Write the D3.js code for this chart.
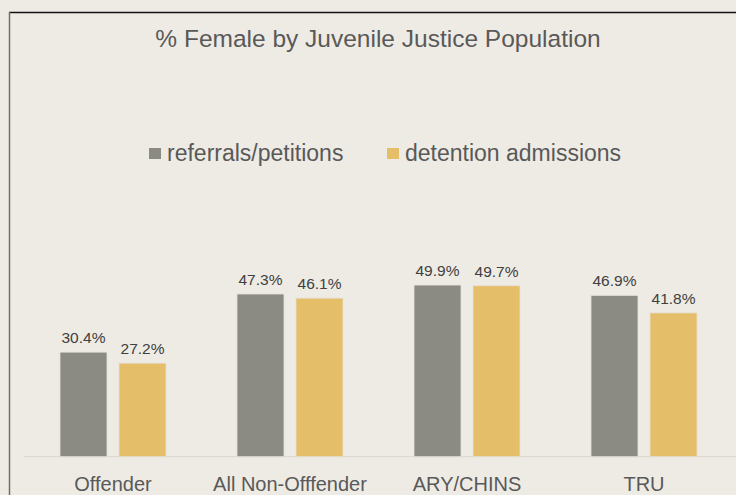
<!DOCTYPE html>
<html>
<head>
<meta charset="utf-8">
<script src="https://cdn.jsdelivr.net/npm/d3@7/dist/d3.min.js"></script>
<style>
  html, body { margin: 0; padding: 0; background: #EEEBE4; }
  svg { display: block; }
  text { font-family: "Liberation Sans", Arial, sans-serif; }
</style>
</head>
<body>
<svg id="chart" width="736" height="495"></svg>
<script>
const title = "% Female by Juvenile Justice Population";
const categories = ["Offender", "All Non-Offfender", "ARY/CHINS", "TRU"];
const seriesNames = ["referrals/petitions", "detention admissions"];
const referrals = [30.4, 47.3, 49.9, 46.9];
const detention = [27.2, 46.1, 49.7, 41.8];
const seriesColors = ["#8B8B84", "#E5BE6A"];

const svg = d3.select("#chart");
const W = 736, H = 495;

svg.append("rect").attr("width", W).attr("height", H).attr("fill", "#EEEBE4");

// chart frame border (top and left visible)
svg.append("line").attr("x1", 9).attr("x2", W).attr("y1", 12.5).attr("y2", 12.5)
  .attr("stroke", "#111").attr("stroke-width", 1.5);
svg.append("line").attr("x1", 9.5).attr("x2", 9.5).attr("y1", 12).attr("y2", H)
  .attr("stroke", "#6f6f6a").attr("stroke-width", 1.5);

svg.append("text").attr("x", 378).attr("y", 47).attr("text-anchor", "middle")
  .attr("font-size", 24.5).attr("fill", "#595959").text(title);

// legend
const legendItems = [
  {name: seriesNames[0], color: seriesColors[0], x: 149},
  {name: seriesNames[1], color: seriesColors[1], x: 387}
];
const lg = svg.append("g");
legendItems.forEach(d => {
  lg.append("rect").attr("x", d.x).attr("y", 148).attr("width", 12).attr("height", 11).attr("fill", d.color);
  lg.append("text").attr("x", d.x + 18).attr("y", 161).attr("font-size", 23)
    .attr("fill", "#595959").text(d.name);
});

const baseY = 456.7;
const x0 = d3.scaleBand().domain(categories).range([24.5, 732.5])
  .paddingInner(0.401).paddingOuter(0.2005);
const x1 = d3.scaleBand().domain(seriesNames).range([0, x0.bandwidth()])
  .paddingInner(0.2034).paddingOuter(0);
const y = d3.scaleLinear().domain([0, 60]).range([baseY, 250.3]);

const rows = categories.map((c, i) => ({cat: c, vals: [referrals[i], detention[i]]}));

// baseline
svg.append("line").attr("x1", 24).attr("x2", W).attr("y1", baseY).attr("y2", baseY)
  .attr("stroke", "#D9D6CF").attr("stroke-width", 1);

const groups = svg.selectAll("g.grp").data(rows).join("g").attr("class", "grp")
  .attr("transform", d => `translate(${x0(d.cat)},0)`);

groups.selectAll("rect").data(d => d.vals.map((v, j) => ({s: seriesNames[j], v, j})))
  .join("rect")
  .attr("x", d => x1(d.s)).attr("width", x1.bandwidth())
  .attr("y", d => y(d.v)).attr("height", d => baseY - y(d.v))
  .attr("fill", d => seriesColors[d.j])
  .attr("stroke", "#E6E2D9").attr("stroke-width", 0.8);

groups.selectAll("text.val").data(d => d.vals.map((v, j) => ({s: seriesNames[j], v, j})))
  .join("text").attr("class", "val")
  .attr("x", d => x1(d.s) + x1.bandwidth() / 2)
  .attr("y", d => y(d.v) - 9)
  .attr("text-anchor", "middle").attr("font-size", 15.5).attr("fill", "#404040")
  .text(d => d.v.toFixed(1) + "%");

// category axis labels
const xAxis = d3.axisBottom(x0).tickSize(0).tickPadding(0);
const ax = svg.append("g").attr("transform", `translate(0,${baseY})`).call(xAxis);
ax.select(".domain").remove();
ax.selectAll("text").attr("font-size", 20).attr("fill", "#595959")
  .attr("font-family", "Liberation Sans, Arial, sans-serif")
  .attr("dy", null).attr("y", 34.5);
</script>
</body>
</html>
